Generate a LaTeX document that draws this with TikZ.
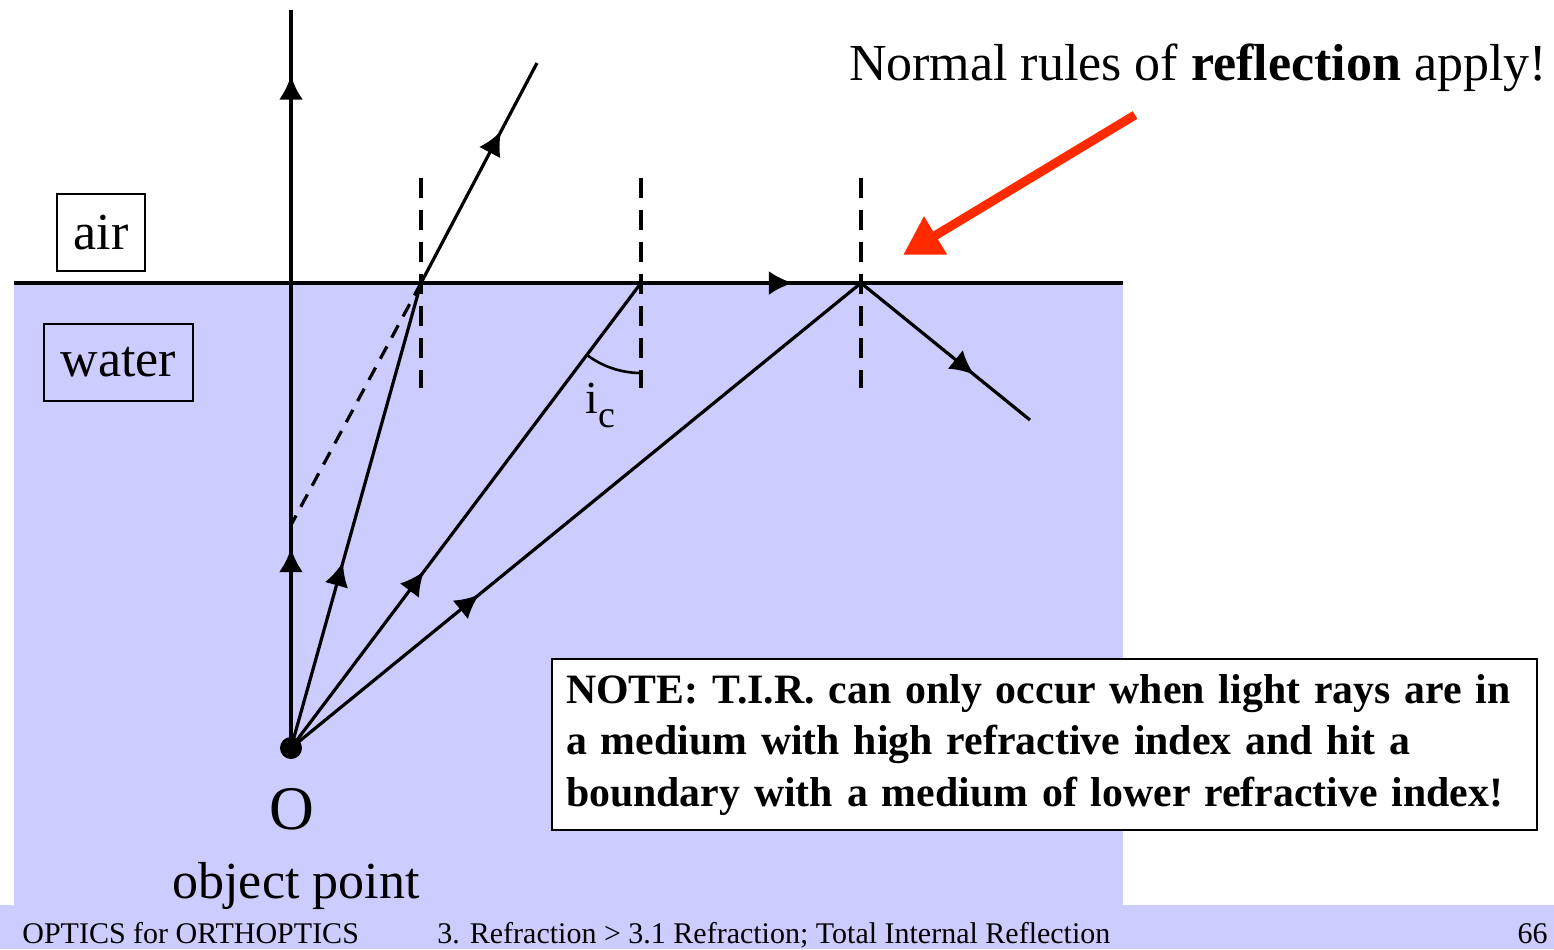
\documentclass[tikz,border=0pt]{standalone}
\usepackage{fontspec}
\setmainfont{Liberation Serif}
\usetikzlibrary{positioning,arrows.meta,decorations.markings}
\definecolor{water}{HTML}{CCCCFF}
\definecolor{pointer}{HTML}{FF2A00}

\tikzset{
  ray/.style={line width=1.6pt},
  normalline/.style={line width=2.2pt,dash pattern=on 10pt off 6pt},
  tipat/.style={postaction={decorate,decoration={markings,
      mark=at position #1 with {\arrow{Latex[length=12pt,width=12pt]}}}}},
  medium/.style={draw,line width=.8pt,inner sep=0pt,font=\fontsize{26}{30}\selectfont},
  big/.style={font=\fontsize{26}{30}\selectfont},
  foot/.style={anchor=base,inner sep=0pt,font=\fontsize{15}{17}\selectfont},
}

\begin{document}
\begin{tikzpicture}[x=0.5pt,y=-0.5pt]
  \useasboundingbox (0,0) rectangle (1554,949);
  % water and footer band
  \fill[water](14,283) rectangle(1123,905);
  \fill[water](0,905) rectangle(1554,949);
  % points on the surface and ray ends
  \coordinate (wl) at (14,283); \coordinate (wr) at (1123,283);
  \coordinate (O) at (291,748);
  \coordinate (s0) at (291,283); \coordinate (t0) at (291,10);
  \coordinate (s1) at (421,283); \coordinate (t1) at (537,63);
  \coordinate (s2) at (641,283);
  \coordinate (s3) at (861,283); \coordinate (t3) at (1030,420);
  \coordinate (img) at (291,525);
  % normals
  \foreach \p in {s1,s2,s3}
    \draw[normalline]([yshift=52.5pt]\p)--([yshift=-52.5pt]\p);
  \draw[line width=2.2pt](wl)--(wr);
  % rays from the object point
  \draw[ray,line width=2pt,tipat=.43](O)--(s0);
  \draw[ray,line width=2pt,tipat=.76](s0)--(t0);
  \draw[ray,tipat=.40](O)--(s1);
  \draw[ray,tipat=.69](s1)--(t1);
  \draw[ray,dash pattern=on 7pt off 5pt](s1)--(img);
  \draw[ray,tipat=.38](O)--(s2);
  \draw[ray,tipat=.69](s2)--(s3);
  \draw[ray,tipat=.33](O)--(s3);
  \draw[ray,tipat=.67](s3)--(t3);
  \fill(O) circle[radius=11];
  % critical angle
  \draw[line width=1.3pt](s2) ++(127:90) arc[start angle=127,end angle=90,radius=90];
  \node[anchor=base west,inner sep=0pt,font=\fontsize{23}{25}\selectfont] (ic) at (585,413)
    {i\raisebox{-7pt}{\fontsize{19}{20}\selectfont c}};
  % media
  \node[medium,minimum width=44pt,minimum height=38.5pt] (air) at (101,232.5) {air};
  \node[medium,minimum width=74.5pt,minimum height=38.5pt] (water) at (118.5,362.5) {water};
  \node[big,anchor=base] (olabel) at (292,829) {\fontsize{31}{34}\selectfont O};
  \node[big,anchor=base] (objpt) at (296,898) {object point};
  % reflection hint
  \node[big,anchor=base] (rule) at (1198,80) {Normal rules of \textbf{reflection} apply!};
  \coordinate (pa) at (1135,115); \coordinate (pb) at (903,255);
  \draw[pointer,line width=4.5pt,-{Triangle[length=19pt,width=21pt]}](pa)--(pb);
  % note
  \node[draw,fill=white,line width=1pt,anchor=north west,inner xsep=7pt,inner ysep=0pt,
    text width=478.5pt,align=left,minimum height=85.5pt,
    font=\fontsize{20.9}{25.75}\selectfont\bfseries] (note) at (551,658)
    {NOTE: T.I.R. can only occur when light rays are in\\
     a medium with high refractive index and hit a\\
     boundary with a medium of lower refractive index!};
  % footer
  \node[foot,anchor=base west] (course) at (22,943) {OPTICS for ORTHOPTICS};
  \node[foot,anchor=base west] (chapter) at (437,943)
    {3. Refraction \textgreater\ 3.1 Refraction; Total Internal Reflection};
  \node[foot,anchor=base east] (page) at (1548,943) {66};
\end{tikzpicture}
\end{document}
